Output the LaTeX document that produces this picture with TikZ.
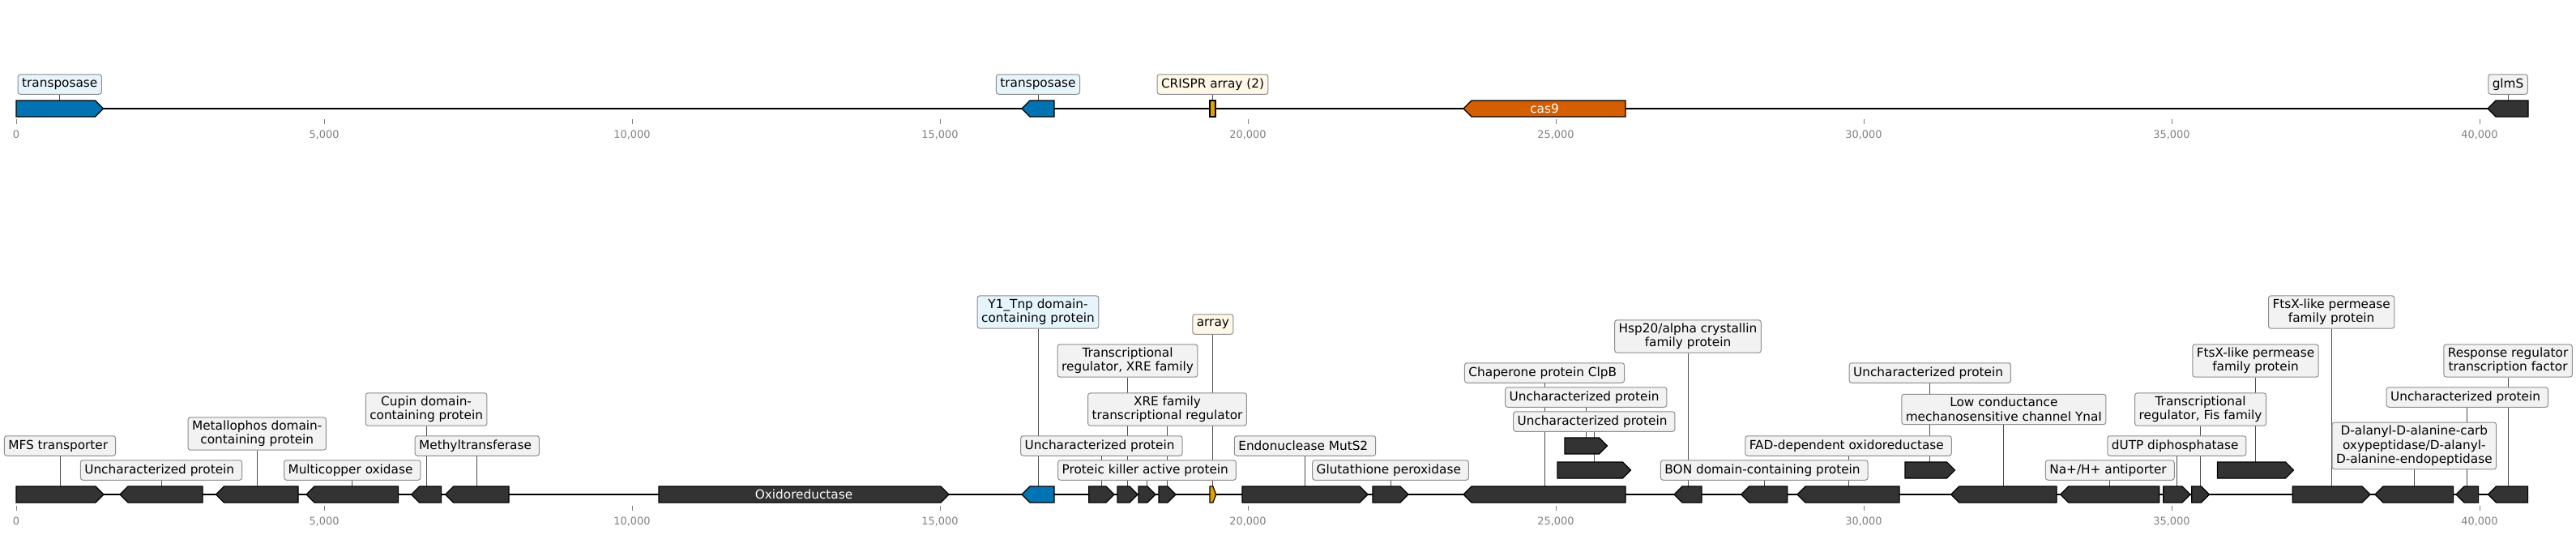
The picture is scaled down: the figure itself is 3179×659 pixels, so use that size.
\documentclass[tikz,border=0pt]{standalone}
\usepackage{fontspec}
\setmainfont{DejaVu Sans}
\usetikzlibrary{calc}
\pgfdeclarelayer{bg}
\pgfsetlayers{bg,main}
\definecolor{gdark}{HTML}{333333}
\definecolor{gblue}{HTML}{0173B2}
\definecolor{gorange}{HTML}{D55E00}
\definecolor{gamber}{HTML}{E69F00}
\definecolor{lgray}{HTML}{F2F2F2}
\definecolor{lblue}{HTML}{E6F5FC}
\definecolor{lcream}{HTML}{FFF8E8}
\definecolor{lborder}{HTML}{8E8E8E}
\definecolor{tickc}{HTML}{808080}
\newcommand{\labfont}{\fontsize{15.3}{17.5}\selectfont}
\newcommand{\tickfont}{\fontsize{12.9}{15}\selectfont}
\newcommand{\rsp}{\hspace*{4.5pt}}
\newcommand{\gfwd}[5]{%
  \pgfmathsetmacro{\myhd}{min(10,0.5*(#3-#2))}%
  \draw[genebox,fill=#5] (#2,#4-10) -- ({#3-\myhd},#4-10) -- (#3,#4) -- ({#3-\myhd},#4+10) -- (#2,#4+10) -- cycle;
  \coordinate (#1) at ({(#2+#3)/2},#4);}
\newcommand{\grev}[5]{%
  \pgfmathsetmacro{\myhd}{min(10,0.5*(#3-#2))}%
  \draw[genebox,fill=#5] (#3,#4-10) -- ({#2+\myhd},#4-10) -- (#2,#4) -- ({#2+\myhd},#4+10) -- (#3,#4+10) -- cycle;
  \coordinate (#1) at ({(#2+#3)/2},#4);}
\tikzset{
  genebox/.style={draw=black, line width=1.2pt, line join=miter},
  lab/.style={draw=lborder, line width=1pt, rounded corners=3pt, fill=lgray, font=\labfont, inner xsep=5pt, inner ysep=4pt, minimum height=24.5pt, align=center},
  labblue/.style={lab, fill=lblue},
  labcream/.style={lab, fill=lcream},
  leader/.style={draw=black!70, line width=0.9pt},
  backbone/.style={draw=black, line width=2.4pt},
  tickmark/.style={draw=tickc, line width=0.8pt},
  ticklab/.style={font=\tickfont, text=tickc, inner sep=0pt},
  intext/.style={font=\labfont, text=white, inner sep=0pt}
}
\begin{document}
\begin{tikzpicture}[x=1pt,y=-1pt]
\useasboundingbox (0,0) rectangle (3179,659);
% ---------------- backbones and ticks
\begin{pgfonlayer}{bg}
\fill[white] (0,0) rectangle (3179,659);
\coordinate (a0) at (20,134); \coordinate (a1) at (3120,134);
\coordinate (b0) at (20,610); \coordinate (b1) at (3120,610);
\draw[backbone] (a0) -- (a1);
\draw[backbone] (b0) -- (b1);
\end{pgfonlayer}
\foreach \i/\t in {0/0,1/{5,000},2/{10,000},3/{15,000},4/{20,000},5/{25,000},6/{30,000},7/{35,000},8/{40,000}}{
  \pgfmathsetmacro{\tx}{20+380*\i}
  \draw[tickmark] (\tx,147) -- (\tx,153);
  \node[ticklab] (ta\i) at (\tx,166) {\t};
  \draw[tickmark] (\tx,624) -- (\tx,630);
  \node[ticklab] (tb\i) at (\tx,643) {\t};
}
% ---------------- top track
\gfwd{t1}{20}{127.5}{134}{gblue}
\grev{t2}{1261}{1301}{134}{gblue}
\draw[genebox,fill=gamber] (1493,124) rectangle (1500,144);
\coordinate (t3) at (1496.5,134);
\grev{t4}{1806}{2006}{134}{gorange}
\grev{t5}{3070}{3120}{134}{gdark}
\node[intext] (c9) at (t4) {cas9};
\node[labblue] (lt1) at (t1 |- 0,104) {transposase};
\node[labblue] (lt2) at (t2 |- 0,104) {transposase};
\node[labcream] (lt3) at (t3 |- 0,104) {CRISPR array (2)};
\node[lab] (lt5) at (t5 |- 0,104) {glmS};
% ---------------- bottom track genes
\gfwd{g1}{20}{128}{610}{gdark}
\grev{g2}{148}{250}{610}{gdark}
\grev{g3}{266.5}{368}{610}{gdark}
\grev{g4}{378}{491.5}{610}{gdark}
\grev{g5}{507.6}{544.6}{610}{gdark}
\grev{g6}{549.6}{628}{610}{gdark}
\gfwd{g7}{813}{1171}{610}{gdark}
\grev{g8}{1261}{1301}{610}{gblue}
\gfwd{g9}{1343.75}{1375}{610}{gdark}
\gfwd{g10}{1379}{1404}{610}{gdark}
\gfwd{g11}{1405}{1426}{610}{gdark}
\gfwd{g12}{1430}{1451}{610}{gdark}
\gfwd{g13}{1493}{1500.7}{610}{gamber}
\gfwd{g14}{1533}{1688}{610}{gdark}
\gfwd{g15}{1694}{1738}{610}{gdark}
\grev{g16}{1806}{2006}{610}{gdark}
\gfwd{g17}{1931}{1983.5}{550}{gdark}
\gfwd{g18}{1922}{2012.5}{580}{gdark}
\grev{g19}{2066}{2100}{610}{gdark}
\grev{g20}{2148.7}{2205.8}{610}{gdark}
\grev{g21}{2218}{2344}{610}{gdark}
\gfwd{g22}{2351}{2412.6}{580}{gdark}
\grev{g23}{2407.7}{2538}{610}{gdark}
\grev{g24}{2542.8}{2664.8}{610}{gdark}
\gfwd{g25}{2669.8}{2703}{610}{gdark}
\gfwd{g26}{2704.7}{2726.5}{610}{gdark}
\gfwd{g27}{2736.4}{2830.6}{580}{gdark}
\gfwd{g28}{2829.3}{2925}{610}{gdark}
\grev{g29}{2931}{3027.6}{610}{gdark}
\grev{g30}{3031}{3058.6}{610}{gdark}
\grev{g31}{3070.5}{3119.6}{610}{gdark}
\node[intext] (ox) at (g7) {Oxidoreductase};
% ---------------- bottom labels
\node[lab] (l1) at (g1 |- 0,550) {MFS transporter\rsp};
\node[lab] (l2) at (g2 |- 0,580) {Uncharacterized protein\rsp};
\node[lab] (l3) at (g3 |- 0,535) {Metallophos domain-\\containing protein};
\node[lab] (l4) at (g4 |- 0,580) {Multicopper oxidase\rsp};
\node[lab] (l5) at (g5 |- 0,505) {Cupin domain-\\containing protein};
\node[lab] (l6) at (g6 |- 0,550) {Methyltransferase\rsp};
\node[labblue] (l8) at (g8 |- 0,385) {Y1\_Tnp domain-\\containing protein};
\node[lab] (l9) at (g9 |- 0,550) {Uncharacterized protein\rsp};
\node[lab] (l10) at (g10 |- 0,445) {Transcriptional\\regulator, XRE family};
\node[lab] (l11) at (g11 |- 0,580) {Proteic killer active protein\rsp};
\node[lab] (l12) at (g12 |- 0,505) {XRE family\\transcriptional regulator};
\node[labcream] (l13) at (g13 |- 0,400) {array};
\node[lab] (l14) at (g14 |- 0,550) {Endonuclease MutS2\rsp};
\node[lab] (l15) at (g15 |- 0,580) {Glutathione peroxidase\rsp};
\node[lab] (l16) at (g16 |- 0,460) {Chaperone protein ClpB\rsp};
\node[lab] (l17) at (g17 |- 0,490) {Uncharacterized protein\rsp};
\node[lab] (l18) at (g18 |- 0,520) {Uncharacterized protein\rsp};
\node[lab] (l19) at (g19 |- 0,415) {Hsp20/alpha crystallin\\family protein};
\node[lab] (l20) at (g20 |- 0,580) {BON domain-containing protein\rsp};
\node[lab] (l21) at (g21 |- 0,550) {FAD-dependent oxidoreductase\rsp};
\node[lab] (l22) at (g22 |- 0,460) {Uncharacterized protein\rsp};
\node[lab] (l23) at (g23 |- 0,505) {Low conductance\\mechanosensitive channel YnaI};
\node[lab] (l24) at (g24 |- 0,580) {Na+/H+ antiporter\rsp};
\node[lab] (l25) at (g25 |- 0,550) {dUTP diphosphatase\rsp};
\node[lab] (l26) at (g26 |- 0,505) {Transcriptional\\regulator, Fis family};
\node[lab] (l27) at (g27 |- 0,445) {FtsX-like permease\\family protein};
\node[lab] (l28) at (g28 |- 0,385) {FtsX-like permease\\family protein};
\node[lab] (l29) at (g29 |- 0,550) {D-alanyl-D-alanine-carb\\oxypeptidase/D-alanyl-\\D-alanine-endopeptidase};
\node[lab] (l30) at (g30 |- 0,490) {Uncharacterized protein\rsp};
\node[lab] (l31) at (g31 |- 0,445) {Response regulator\\transcription factor};
% ---------------- leaders
\begin{pgfonlayer}{bg}
\foreach \n in {1,2,3,5}{\draw[leader] (lt\n) -- (t\n);}
\foreach \n in {1,2,3,4,5,6,8,9,10,11,12,13,14,15,16,17,18,19,20,21,22,23,24,25,26,27,28,29,30,31}{\draw[leader] (l\n) -- (g\n);}
\end{pgfonlayer}
\end{tikzpicture}
\end{document}
